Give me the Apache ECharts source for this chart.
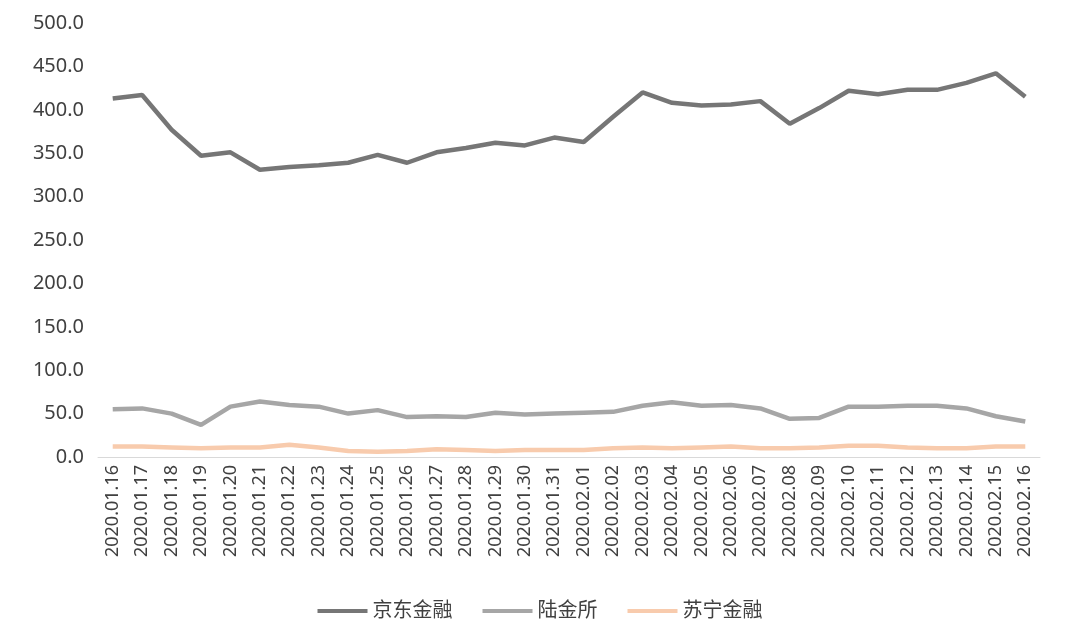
<!DOCTYPE html>
<html><head><meta charset="utf-8">
<script src="https://cdn.jsdelivr.net/npm/echarts@6/dist/echarts.min.js"></script>
<style>html,body{margin:0;background:#fff}#c{width:1080px;height:632px}</style>
</head><body><div id="c"></div>
<script>
// dates 2020.01.16 - 2020.02.16
const dates = ['2020.01.16','2020.01.17','2020.01.18','2020.01.19','2020.01.20','2020.01.21','2020.01.22','2020.01.23','2020.01.24','2020.01.25','2020.01.26','2020.01.27','2020.01.28','2020.01.29','2020.01.30','2020.01.31','2020.02.01','2020.02.02','2020.02.03','2020.02.04','2020.02.05','2020.02.06','2020.02.07','2020.02.08','2020.02.09','2020.02.10','2020.02.11','2020.02.12','2020.02.13','2020.02.14','2020.02.15','2020.02.16'];
const jdFinance = [413,417,377,347,351,331,334,336,339,348,339,351,356,362,359,368,363,392,420,408,405,406,410,384,402,422,418,423,423,431,442,415];
const luFax = [55,56,50,37,58,64,60,58,50,54,46,47,46,51,49,50,51,52,59,63,59,60,56,44,45,58,58,59,59,56,47,41];
const suningFinance = [12,12,11,10,11,11,14,11,7,6,7,9,8,7,8,8,8,10,11,10,11,12,10,10,11,13,13,11,10,10,12,12];

const chart = echarts.init(document.getElementById('c'));
const font = '"Noto Sans", "Noto Sans CJK SC", sans-serif';
const mk = (name, data, color) => ({
    name, type: 'line', data, symbol: 'none', smooth: false,
    lineStyle: { color, width: 4.5 }, itemStyle: { color }
});
chart.setOption({
    animation: false,
    textStyle: { fontFamily: font },
    grid: { left: 98, right: 40, top: 23, bottom: 175 },
    legend: {
        bottom: 6, itemWidth: 50, itemHeight: 4, itemGap: 30,
        icon: 'rect',
        textStyle: { color: '#404040', fontSize: 20, fontFamily: font }
    },
    xAxis: {
        type: 'category', data: dates, boundaryGap: true,
        axisLine: { lineStyle: { color: '#d9d9d9' } },
        axisTick: { show: false },
        axisLabel: { rotate: 90, interval: 0, color: '#404040', fontSize: 18, margin: 8 }
    },
    yAxis: {
        type: 'value', min: 0, max: 500, interval: 50,
        axisLine: { show: false }, axisTick: { show: false },
        splitLine: { show: false },
        axisLabel: { color: '#404040', fontSize: 20, formatter: v => v.toFixed(1), margin: 14 }
    },
    series: [
        mk('京东金融', jdFinance, '#767676'),
        mk('陆金所', luFax, '#a6a6a6'),
        mk('苏宁金融', suningFinance, '#f8cbad')
    ]
});
window.addEventListener('resize', () => chart.resize());
</script>
</body></html>
